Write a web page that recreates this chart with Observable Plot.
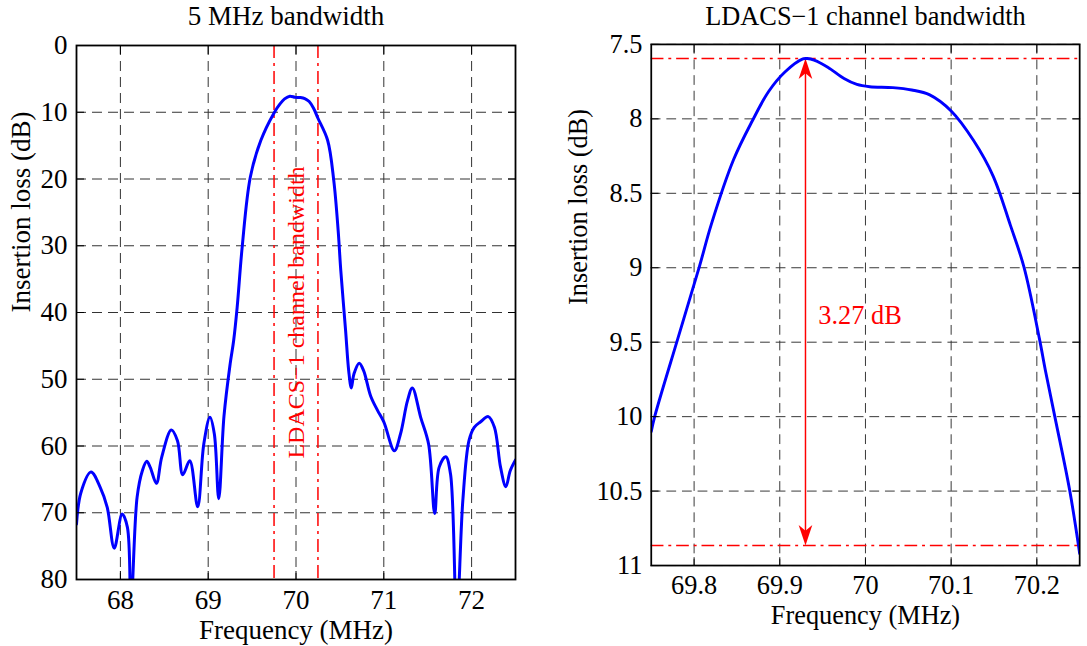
<!DOCTYPE html>
<html><head><meta charset="utf-8">
<script src="https://cdn.jsdelivr.net/npm/d3@7"></script>
<script src="https://cdn.jsdelivr.net/npm/@observablehq/plot@0.6"></script>
<style>
html,body{margin:0;padding:0;background:#fff;overflow:hidden;}
#wrap{position:relative;width:1087px;height:646px;overflow:hidden;background:#fff;}
#left,#right{position:absolute;top:0;}
#left{left:0;}
#right{left:560px;}
</style></head>
<body><div id="wrap"><div id="left"></div><div id="right"></div></div>
<script>
// ---- data ----
const wideFreq = [67.5,67.55,67.665,67.77,67.85,67.93,68.02,68.08,68.12,68.19,68.25,68.30,68.34,68.41,68.47,68.58,68.65,68.71,68.79,68.88,68.95,69.02,69.07,69.12,69.18,69.25,69.29,69.33,69.387,69.48,69.60,69.75,69.82,69.87,69.93,69.99,70.05,70.10,70.15,70.20,70.25,70.36,70.43,70.48,70.51,70.565,70.60,70.63,70.66,70.72,70.77,70.85,70.93,71.0,71.12,71.19,71.27,71.325,71.42,71.51,71.58,71.63,71.705,71.76,71.83,71.90,71.97,72.03,72.10,72.19,72.26,72.33,72.39,72.44,72.5];
const wideLoss = [71.7,67.0,63.9,66.2,69.2,75.3,70.2,72.2,84,67.7,63.7,62.3,63.2,65.6,61.7,57.6,59.2,64.3,62.2,69.1,59.7,55.7,58.2,67.9,55.5,47.7,44.2,39.2,30.2,19.7,14.2,10.1,8.71,8.0,7.6,7.77,7.8,7.95,8.4,9.4,10.9,14.2,20.2,27.7,33.7,42.7,48.7,51.3,49.2,47.6,48.7,52.5,54.7,56.4,60.7,58.2,53.2,51.3,55.7,59.7,70.1,63.2,61.6,64.2,86,68.2,59.2,57.2,56.4,55.6,57.2,63.2,66.1,63.7,62.1];

const zoomFreq = [69.75,69.754,69.781,69.806,69.82,69.846,69.868,69.887,69.906,69.927,69.932,69.94,69.956,69.975,69.99,70.005,70.032,70.054,70.075,70.10,70.126,70.149,70.169,70.185,70.203,70.21,70.221,70.2385,70.25];
const zoomLoss = [10.10,10.0,9.476,8.996,8.71,8.275,8.013,7.816,7.685,7.597,7.595,7.605,7.653,7.729,7.769,7.784,7.79,7.806,7.839,7.947,8.144,8.384,8.712,8.996,9.476,9.69,10.0,10.50,10.92];

const wideXTicks = [68,69,70,71,72];
const wideYTicks = [0,10,20,30,40,50,60,70,80];
const zoomXTicks = [69.8,69.9,70,70.1,70.2];
const zoomYTicks = [7.5,8,8.5,9,9.5,10,10.5,11];

const channelEdges = [69.75, 70.25];
const channelLabel = "LDACS\u22121 channel bandwidth";
const channelLabelPos = {x: 70, y: 40};
const rippleLevels = [7.595, 10.865];
const arrowFreq = 69.93;
const rippleLabel = "3.27 dB";
const rippleLabelPos = {x: 69.945, y: 9.32};
const titles = ["5 MHz bandwidth", "LDACS\u22121 channel bandwidth"];
const xLabel = "Frequency (MHz)";
const yLabel = "Insertion loss (dB)";

// ---- drawing ----
const FONT = "'Liberation Serif', 'Times New Roman', serif";
const TICK_FS = 27, LABEL_FS = 27;
const gridStyle = {stroke: "#333", strokeOpacity: 1, strokeWidth: 1, strokeDasharray: "10,6"};
const redDashDot = {stroke: "#ff0000", strokeWidth: 1.5, strokeDasharray: "13,5,3,5"};
const fmt = d => `${d}`;

function axes(xt, yt) {
  const common = {tickSize: -8, label: null, stroke: "#000", fontFamily: FONT, fontSize: TICK_FS, fill: "#000"};
  return [
    Plot.axisX(xt, {...common, anchor: "bottom", tickPadding: 18, tickFormat: fmt}),
    Plot.axisX(xt, {...common, anchor: "top", tickFormat: () => ""}),
    Plot.axisY(yt, {...common, anchor: "left", tickPadding: 17, tickFormat: fmt}),
    Plot.axisY(yt, {...common, anchor: "right", tickFormat: () => ""})
  ];
}
function labels(title, titleDx, yDx) {
  const t = {text: d => d, fontSize: LABEL_FS, fill: "#000", fontFamily: FONT, lineAnchor: "middle"};
  return [
    Plot.text([title], {...t, frameAnchor: "top", dy: -29, dx: titleDx}),
    Plot.text([xLabel], {...t, frameAnchor: "bottom", dy: 51}),
    Plot.text([yLabel], {...t, frameAnchor: "left", dx: yDx, rotate: -90})
  ];
}

const wide = wideFreq.map((f, i) => ({f, v: wideLoss[i]}));
const zoom = zoomFreq.map((f, i) => ({f, v: zoomLoss[i]}));

const left = Plot.plot({
  width: 540, height: 646,
  marginLeft: 76, marginRight: 25, marginTop: 45, marginBottom: 67,
  style: {fontFamily: FONT, background: "white", color: "black"},
  x: {domain: [67.5, 72.5], label: null},
  y: {domain: [0, 80], reverse: true, label: null},
  marks: [
    Plot.gridX(wideXTicks, gridStyle),
    Plot.gridY(wideYTicks, gridStyle),
    Plot.ruleX(channelEdges, redDashDot),
    Plot.text([channelLabel], {x: channelLabelPos.x, y: channelLabelPos.y, text: d => d, rotate: -90, fill: "#ff0000", fontSize: 24, fontFamily: FONT}),
    Plot.line(wide, {x: "f", y: "v", stroke: "#0000ff", strokeWidth: 3, curve: "catmull-rom", clip: true}),
    Plot.frame({stroke: "#000", strokeWidth: 1.8}),
    ...axes(wideXTicks, wideYTicks),
    ...labels(titles[0], -10, -55)
  ]
});

const headShape = {
  draw(context, l) {
    context.moveTo(0, -l);
    context.lineTo(-7, 0);
    context.lineTo(0, -6);
    context.lineTo(7, 0);
    context.closePath();
  }
};
const heads = [
  {x: arrowFreq, y: rippleLevels[0], r: 0},
  {x: arrowFreq, y: rippleLevels[1], r: 180}
];

const right = Plot.plot({
  width: 540, height: 646,
  marginLeft: 93, marginRight: 8, marginTop: 45, marginBottom: 67,
  style: {fontFamily: FONT, background: "white", color: "black"},
  x: {domain: [69.75, 70.25], label: null},
  y: {domain: [7.5, 11], reverse: true, label: null},
  marks: [
    Plot.gridX(zoomXTicks, gridStyle),
    Plot.gridY(zoomYTicks, gridStyle),
    Plot.ruleY(rippleLevels, redDashDot),
    Plot.ruleX([arrowFreq], {y1: rippleLevels[0] + 0.05, y2: rippleLevels[1] - 0.05, stroke: "#ff0000", strokeWidth: 1.5}),
    Plot.vector(heads, {x: "x", y: "y", rotate: "r", anchor: "end", length: 21, shape: headShape, fill: "#ff0000", stroke: "none"}),
    Plot.text([rippleLabel], {x: rippleLabelPos.x, y: rippleLabelPos.y, text: d => d, textAnchor: "start", fill: "#ff0000", fontSize: LABEL_FS, fontFamily: FONT}),
    Plot.line(zoom, {x: "f", y: "v", stroke: "#0000ff", strokeWidth: 3, curve: "catmull-rom", clip: true}),
    Plot.frame({stroke: "#000", strokeWidth: 1.8}),
    ...axes(zoomXTicks, zoomYTicks),
    ...labels(titles[1], 0, -74)
  ]
});

document.getElementById("left").appendChild(left);
document.getElementById("right").appendChild(right);
</script>
</body></html>
